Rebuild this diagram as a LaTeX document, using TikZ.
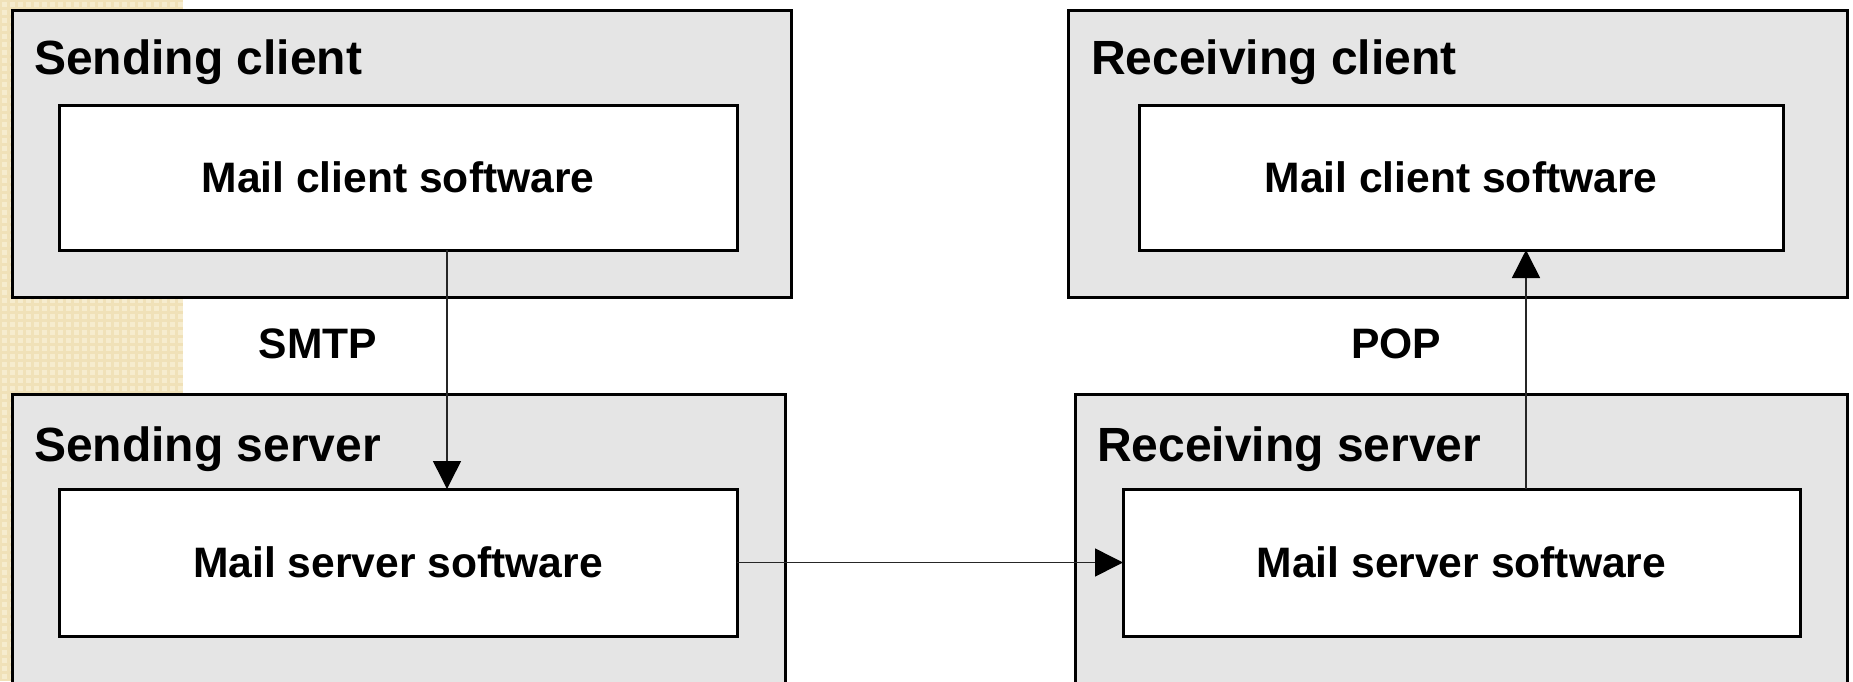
\documentclass[tikz,border=0pt]{standalone}
\usepackage{fontspec}
\setmainfont{Liberation Sans}
\usetikzlibrary{arrows.meta}
\definecolor{beigebase}{RGB}{240,225,184}
\definecolor{beigelight}{RGB}{246,236,206}
\definecolor{boxgray}{RGB}{229,229,229}
\tikzset{
  outerbox/.style={draw=black, fill=boxgray, line width=3pt, outer sep=0pt, inner sep=0pt, anchor=north west},
  innerbox/.style={draw=black, fill=white, line width=3pt, outer sep=0pt, inner sep=0pt, anchor=north west,
    font=\fontsize{42.6}{48}\selectfont\bfseries},
  boxtitle/.style={anchor=base west, inner sep=0pt, font=\fontsize{48}{54}\selectfont\bfseries},
  protolabel/.style={anchor=base, inner sep=0pt, font=\fontsize{42.6}{48}\selectfont\bfseries},
  arr/.style={draw=black!85, line width=1.5pt, -{Triangle[length=28pt,width=28pt,color=black]}}
}
\begin{document}
\begin{tikzpicture}[x=1pt,y=-1pt]
\useasboundingbox (0,0) rectangle (1853,681);
\clip (0,0) rectangle (1853,681);
\fill[white] (0,0) rectangle (1853,681);
% beige patterned strip
\fill[beigebase] (0,0) rectangle (183,681);
\foreach \i in {0,...,22}{
  \foreach \j in {0,...,85}{
    \fill[beigelight] (\i*8+1.5,\j*8+1.5) rectangle ++(5,5);
  }
}
% boxes
\node[outerbox, minimum width=779pt, minimum height=287pt] (sc) at (12,10) {};
\node[innerbox, minimum width=678pt, minimum height=145pt] (sci) at (59,105) {Mail client software};
\node[boxtitle] (sct) at (34,74) {Sending client};

\node[outerbox, minimum width=773pt, minimum height=330pt] (ss) at (12,394) {};
\node[innerbox, minimum width=678pt, minimum height=147pt] (ssi) at (59,489) {Mail server software};
\node[boxtitle] (sst) at (34,461) {Sending server};

\node[outerbox, minimum width=779pt, minimum height=287pt] (rc) at (1068,10) {};
\node[innerbox, minimum width=644pt, minimum height=145pt] (rci) at (1139,105) {Mail client software};
\node[boxtitle] (rct) at (1091,74) {Receiving client};

\node[outerbox, minimum width=772pt, minimum height=330pt] (rs) at (1075,394) {};
\node[innerbox, minimum width=677pt, minimum height=147pt] (rsi) at (1123,489) {Mail server software};
\node[boxtitle] (rst) at (1097,461) {Receiving server};

% protocol labels
\node[protolabel] (smtp) at (318,358) {SMTP};
\node[protolabel] (pop) at (1396,358) {POP};

% connectors
\coordinate (smtpx) at (447,0);
\coordinate (popx) at (1526,0);
\draw[arr] (smtpx |- sci.south) -- (smtpx |- ssi.north);
\draw[arr] (ssi.east) -- (rsi.west);
\draw[arr] (popx |- rsi.north) -- (popx |- rci.south);
\end{tikzpicture}
\end{document}
